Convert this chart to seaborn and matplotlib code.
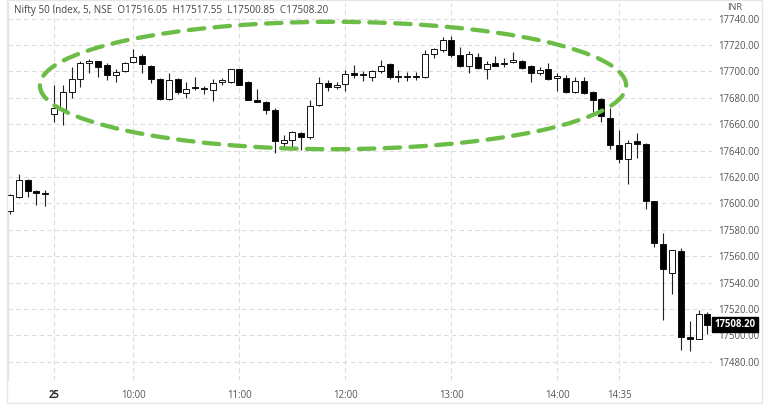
import numpy as np
import pandas as pd
import matplotlib
matplotlib.use("Agg")
import matplotlib.pyplot as plt
import matplotlib.transforms as mtransforms
from matplotlib.patches import Ellipse, Rectangle
import seaborn as sns

# 5 minute candles: last five of the previous session, then 25th from 09:15
prev_times = pd.date_range("2022-08-24 15:05", "2022-08-24 15:25", freq="5min")
day_times = pd.date_range("2022-08-25 09:15", "2022-08-25 15:25", freq="5min")

opens = [17594, 17605, 17618, 17609.5, 17607.5,
         17668, 17671.5, 17684, 17694, 17706, 17707.5, 17704.5, 17697.3, 17700, 17707,
         17712, 17704, 17694, 17679, 17694, 17683.5, 17688, 17687, 17686, 17691.7,
         17692, 17701.5, 17692, 17678, 17677, 17671, 17645.5, 17648, 17653, 17650,
         17674.5, 17691, 17688, 17690.5, 17699, 17698, 17696, 17700, 17705.5, 17696.3,
         17696, 17696.3, 17695.5, 17713, 17716, 17724, 17712.5, 17704, 17711, 17701.5,
         17706.5, 17705.6, 17707, 17708, 17704, 17699, 17701.5, 17694.8, 17695, 17684,
         17692.7, 17684.5, 17679, 17665, 17644, 17633.5, 17647, 17645, 17601.5, 17569,
         17547.5, 17564, 17499, 17497.5, 17516.05]
highs = [17607, 17622, 17618.5, 17610, 17610,
         17690, 17690, 17703, 17707.5, 17709.5, 17708, 17706, 17702, 17707, 17717,
         17713, 17705, 17695, 17699, 17695, 17692, 17696, 17689, 17694, 17695,
         17702, 17702, 17693, 17686.5, 17677.5, 17672, 17652, 17655, 17654, 17678.5,
         17696, 17693.5, 17692, 17701, 17705, 17700.5, 17701, 17708.5, 17706, 17701,
         17699.8, 17699.5, 17716, 17718, 17726, 17726.5, 17718.5, 17715.5, 17714, 17708,
         17711.7, 17710, 17714.5, 17708.5, 17705, 17703.6, 17706, 17698.5, 17697, 17695.5,
         17695.5, 17685, 17680, 17672, 17655.6, 17648, 17653, 17646, 17602, 17577.5,
         17565, 17566, 17511, 17519, 17517.55]
lows = [17592, 17604, 17605, 17599, 17598,
        17662, 17659, 17680, 17688, 17699, 17696, 17693.5, 17692, 17699.5, 17706,
        17699, 17691, 17678, 17678, 17683, 17680, 17686, 17683, 17677.5, 17690,
        17691, 17689.5, 17678, 17676.5, 17667.5, 17638, 17641.5, 17643, 17640.5, 17649,
        17674, 17685.5, 17687, 17685.5, 17695, 17693, 17693, 17699, 17694, 17692,
        17693, 17693.5, 17695, 17710, 17715, 17711, 17703, 17699, 17701.5, 17694,
        17704, 17703.5, 17706, 17701.7, 17691.7, 17697, 17693.5, 17685.2, 17683.5, 17683.5,
        17683, 17669.5, 17662, 17641, 17630.4, 17614.5, 17634, 17595.5, 17566.7, 17512,
        17531, 17489, 17488, 17497, 17500.85]
closes = [17606, 17618, 17609, 17607.5, 17607,
          17672, 17684, 17694, 17706, 17708, 17703.5, 17697.5, 17699.8, 17706, 17711,
          17705.5, 17694, 17679, 17693.5, 17684, 17687, 17687.5, 17686.5, 17691.5, 17693.5,
          17701.5, 17690, 17678.5, 17677, 17671, 17647, 17648, 17654, 17650, 17674,
          17691.5, 17688, 17690, 17697.8, 17697, 17697, 17700, 17704, 17695.5, 17696,
          17696.3, 17696, 17713, 17717, 17724, 17712.5, 17704, 17713, 17702.5, 17705.5,
          17704.3, 17706.6, 17708.5, 17702.5, 17698.5, 17701, 17694, 17696.5, 17684, 17692.7,
          17683.4, 17678.3, 17666, 17644, 17633.5, 17645.5, 17645, 17601.5, 17570, 17550,
          17564.7, 17498.6, 17497, 17516, 17508.20]

tick_times = ["2022-08-25 09:15", "2022-08-25 10:00", "2022-08-25 11:00", "2022-08-25 12:00",
              "2022-08-25 13:00", "2022-08-25 14:00", "2022-08-25 14:35"]
tick_labels = ["25", "10:00", "11:00", "12:00", "13:00", "14:00", "14:35"]
price_ticks = [17480, 17500, 17520, 17540, 17560, 17580, 17600, 17620,
               17640, 17660, 17680, 17700, 17720, 17740]

header = "Nifty 50 Index, 5, NSE  O17516.05  H17517.55  L17500.85  C17508.20"
last_price = 17508.20

df = pd.DataFrame({"time": list(prev_times) + list(day_times),
                   "open": opens, "high": highs, "low": lows, "close": closes})
df["pos"] = np.arange(len(df))
df["up"] = df["close"] >= df["open"]

sns.set_theme(style="white")
plt.rcParams["font.family"] = ["Open Sans", "DejaVu Sans"]

fig = plt.figure(figsize=(7.68, 4.09), dpi=100)
W, H = 768, 409
ax = fig.add_axes([8 / W, 1 - 380 / H, (712 - 8) / W, (380 - 3) / H])

# wicks
ax.vlines(df["pos"], df["low"], df["high"], color="#222222", lw=0.8, zorder=2)

# bodies
body_low = df[["open", "close"]].min(axis=1)
body_h = (df["close"] - df["open"]).abs().clip(lower=0.7)
colors = np.where(df["up"], "white", "black")
ax.bar(df["pos"], body_h, bottom=body_low, width=0.68, color=colors,
       edgecolor="#111111", linewidth=0.7, zorder=3)

# green dashed ellipse drawn around the morning range
ell = Ellipse((36.6, 17689.3), width=66.4, height=96.5, fill=False,
              edgecolor="#6cbd48", linewidth=3.1, linestyle=(0, (3.6, 2.4)),
              capstyle="round", zorder=5)
ax.add_patch(ell)

pos_of = dict(zip(df["time"].dt.strftime("%Y-%m-%d %H:%M"), df["pos"]))
xticks = [pos_of[t] for t in tick_times]

ax.set_xlim(5 - 5.21, 5 + 74.52)
ax.set_ylim(17466.2, 17751.8)

ax.set_xticks(xticks)
ax.set_xticklabels(tick_labels)
ax.set_yticks(price_ticks)
ax.set_yticklabels([f"{v:.2f}" for v in price_ticks])
ax.yaxis.tick_right()
ax.tick_params(axis="y", length=0, pad=4.5, labelsize=6.9, labelcolor="#555555")
ax.tick_params(axis="x", length=0, pad=7, labelsize=6.9, labelcolor="#555555")
ax.get_xticklabels()[0].set_fontweight("bold")
ax.get_xticklabels()[0].set_color("#333333")

ax.grid(True, color="#dcdcdc", linestyle=(0, (4, 3)), linewidth=0.8)
ax.set_axisbelow(True)
for side in ["top", "right", "bottom"]:
    ax.spines[side].set_visible(False)
ax.spines["left"].set_color("#e3e3e3")
ax.spines["left"].set_linewidth(1.0)

# header and currency
ax.text(0.008, 1 - 8 / 377, header, transform=ax.transAxes, fontsize=7.1,
        color="#444444", va="center", ha="left", zorder=6)
fig.text(727 / W, 1 - 8 / H, "INR", fontsize=6.6, color="#555555", va="center", ha="left")

# last price tag
trans = mtransforms.blended_transform_factory(ax.transAxes, ax.transData)
ax.text(1.004, last_price, f"{last_price:.2f}", transform=trans, fontsize=6.9,
        color="white", fontweight="bold", va="center", ha="left", clip_on=False, zorder=7,
        bbox=dict(boxstyle="square,pad=0.25", fc="black", ec="black"))

# outer frame
fig.patches.append(Rectangle((7 / W, 1 - 403 / H), (762 - 7) / W, 403 / H,
                             transform=fig.transFigure, fill=False,
                             edgecolor="#e6e6e6", linewidth=1.0))

fig.savefig("out.png", dpi=100)
